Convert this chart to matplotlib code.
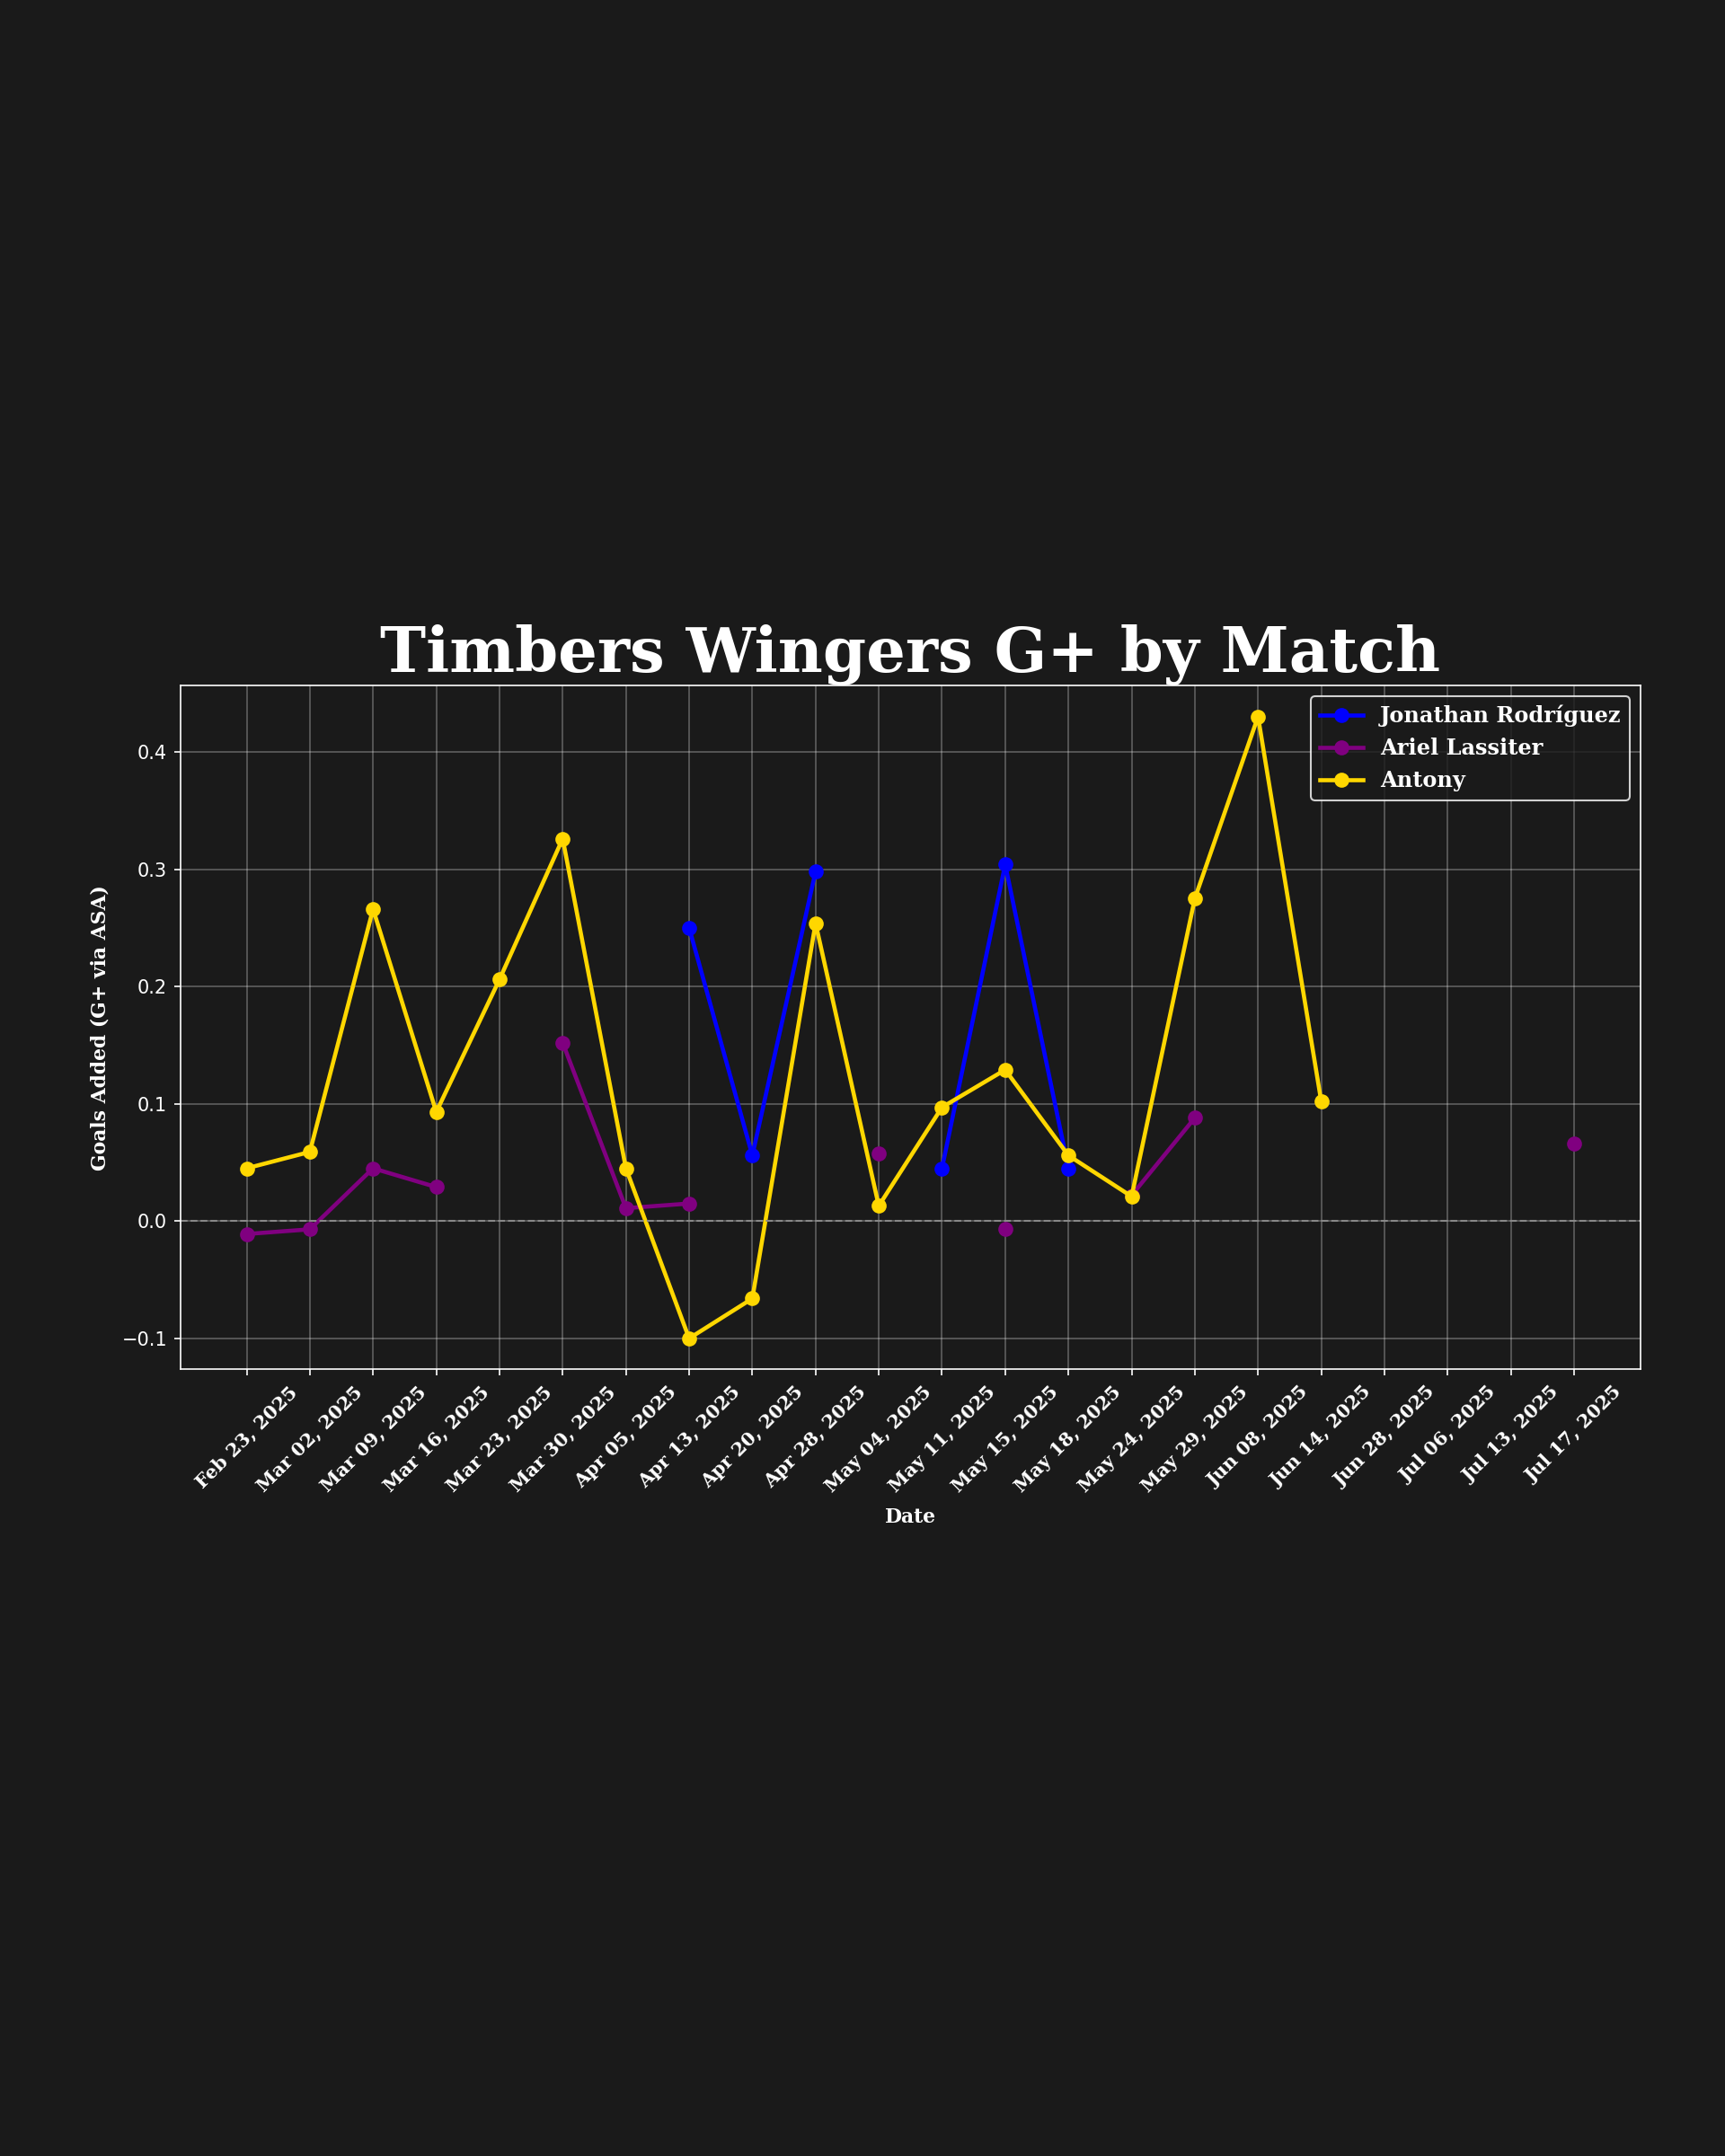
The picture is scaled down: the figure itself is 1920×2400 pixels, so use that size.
import numpy as np
import matplotlib
matplotlib.use("Agg")
import matplotlib.pyplot as plt

dates = ["Feb 23, 2025", "Mar 02, 2025", "Mar 09, 2025", "Mar 16, 2025", "Mar 23, 2025",
         "Mar 30, 2025", "Apr 05, 2025", "Apr 13, 2025", "Apr 20, 2025", "Apr 28, 2025",
         "May 04, 2025", "May 11, 2025", "May 15, 2025", "May 18, 2025", "May 24, 2025",
         "May 29, 2025", "Jun 08, 2025", "Jun 14, 2025", "Jun 28, 2025", "Jul 06, 2025",
         "Jul 13, 2025", "Jul 17, 2025"]
nan = np.nan
rodriguez = [nan, nan, nan, nan, nan, nan, nan, 0.250, 0.056, 0.298,
             nan, 0.045, 0.304, 0.045, nan, nan, nan, nan, nan, nan, nan, nan]
lassiter = [-0.011, -0.007, 0.045, 0.029, nan, 0.152, 0.011, 0.015, nan, nan,
            0.058, nan, -0.007, nan, 0.022, 0.088, nan, nan, nan, nan, nan, 0.066]
antony = [0.045, 0.059, 0.266, 0.093, 0.206, 0.326, 0.045, -0.100, -0.066, 0.254,
          0.013, 0.097, 0.129, 0.056, 0.021, 0.275, 0.430, 0.102, nan, nan, nan, nan]

series = [("Jonathan Rodríguez", rodriguez, "#0000ff"),
          ("Ariel Lassiter", lassiter, "#800080"),
          ("Antony", antony, "#ffd700")]

bg = "#1a1a1a"
slab = ["DejaVu Serif"]

fig = plt.figure(figsize=(12.8, 16), dpi=150, facecolor=bg)
ax = fig.add_axes([0.1045, 0.3648, 0.8465, 0.3172])
ax.set_facecolor(bg)

for name, vals, col in series:
    ax.plot(dates, vals, marker="o", color=col, linewidth=2.2, markersize=7, label=name)

ax.axhline(0, color="#888888", linestyle="--", linewidth=1)
ax.grid(True, color="#ffffff", alpha=0.3, linewidth=0.8)

for s in ax.spines.values():
    s.set_color("white")
ax.tick_params(colors="white", labelsize=10)
plt.setp(ax.get_xticklabels(), rotation=45, ha="center",
         family=slab, fontweight="bold", fontsize=10)

ax.set_xlabel("Date", color="white", family=slab, fontweight="bold", fontsize=10.5, labelpad=6)
ax.set_ylabel("Goals Added (G+ via ASA)", color="white", family=slab, fontweight="bold",
              fontsize=10.5, labelpad=6)
ax.set_title("Timbers Wingers G+ by Match", color="white", family=slab, fontweight="bold",
             fontsize=33, pad=4)

leg = ax.legend(loc="upper right", facecolor=bg, edgecolor="white",
                prop={"family": slab, "weight": "bold", "size": 11.5})
for t in leg.get_texts():
    t.set_color("white")

fig.savefig("out.png", dpi=150, facecolor=bg)
